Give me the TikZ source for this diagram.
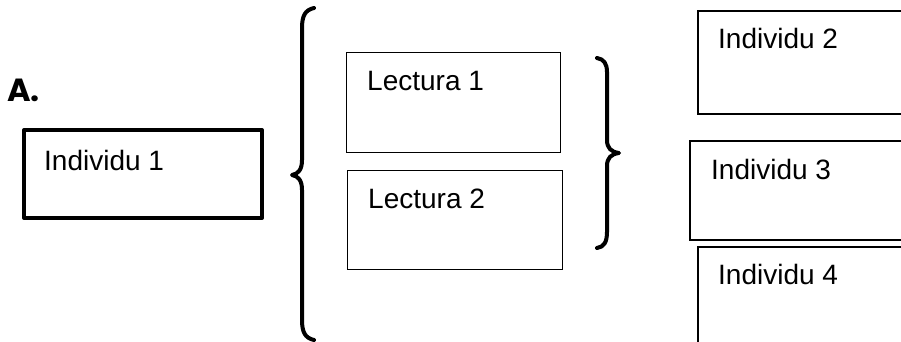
\documentclass[tikz,border=0pt]{standalone}
\usepackage{fontspec}
\setmainfont{Liberation Sans}
\newfontfamily\headfont{Poppins}
\begin{document}
\begin{tikzpicture}[x=1pt,y=-1pt,
  thickbox/.style={draw, line width=4pt, line join=round, inner sep=0pt},
  thinbox/.style={draw, line width=1.4pt, inner sep=0pt},
  midbox/.style={draw, line width=1.8pt, inner sep=0pt},
  lbl/.style={anchor=base west, inner sep=0pt, font=\fontsize{28}{32}\selectfont},
  bracket/.style={line width=4pt, line cap=round, line join=round}]
\useasboundingbox (0,0) rectangle (901,342);
\clip (0,0) rectangle (901,342);

% heading
\node[anchor=base west, inner sep=0pt, font=\headfont\bfseries\fontsize{32}{36}\selectfont] (head) at (7,102) {A.};

% left box
\node[thickbox, anchor=north west, minimum width=238pt, minimum height=88pt] (ind1) at (22,128) {};
\node[lbl] (t1) at (44,170) {Individu 1};

% large brace
\draw[bracket] (314,8) .. controls (305,10) and (302,16) .. (302,28) -- (302,160)
  .. controls (302,170) and (298,174) .. (292,175)
  .. controls (298,176) and (302,180) .. (302,190) -- (302,320)
  .. controls (302,332) and (305,338) .. (314,340);

% readings
\node[thinbox, anchor=north west, minimum width=214pt, minimum height=100pt] (lec1) at (346,52) {};
\node[lbl] (tl1) at (367,91) {Lectura 1};
\node[thinbox, anchor=north west, minimum width=215pt, minimum height=99pt] (lec2) at (347,170) {};
\node[lbl] (tl2) at (368,208) {Lectura 2};

% small brace
\draw[bracket] (597,58) .. controls (604,59) and (607,64) .. (607,72) -- (607,140)
  .. controls (607,148) and (611,152) .. (619,153)
  .. controls (611,154) and (607,158) .. (607,166) -- (607,232)
  .. controls (607,242) and (604,247) .. (597,248);

% individuals on the right
\node[midbox, anchor=north west, minimum width=220pt, minimum height=103pt] (ind2) at (697,10) {};
\node[lbl] (t2) at (718,49) {Individu 2};
\node[midbox, anchor=north west, minimum width=230pt, minimum height=99pt] (ind3) at (689,140) {};
\node[lbl] (t3) at (711,179) {Individu 3};
\node[midbox, anchor=north west, minimum width=220pt, minimum height=110pt] (ind4) at (697,246) {};
\node[lbl] (t4) at (718,284) {Individu 4};
\end{tikzpicture}
\end{document}
